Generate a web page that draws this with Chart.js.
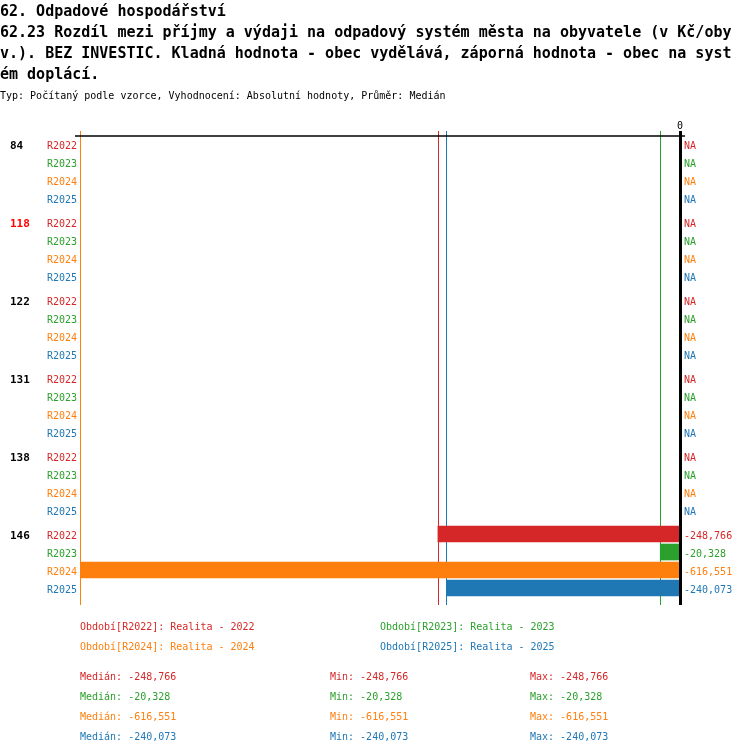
<!DOCTYPE html>
<html>
<head>
<meta charset="utf-8">
<script src="https://cdn.jsdelivr.net/npm/chart.js@4.4.1/dist/chart.umd.min.js"></script>
<style>
  body { margin: 0; background: #fff; }
  #wrap { position: relative; width: 750px; height: 754px; overflow: hidden; }
  #chart { position: absolute; left: 0; top: 0; }
  .txt { position: absolute; font-family: 'DejaVu Sans Mono', monospace; white-space: pre; color: #000; }
  .title { left: 0; font-size: 15px; font-weight: bold; line-height: 21px; }
  #heading2 { width: 735px; white-space: normal; word-break: break-all; }
  .small { font-size: 10px; line-height: 20px; }
</style>
</head>
<body>
<div id="wrap">
  <canvas id="chart" width="750" height="754"></canvas>
  <div class="txt title" style="top:1px">62. Odpadové hospodářství</div>
  <div class="txt title" id="heading2" style="top:22px">62.23 Rozdíl mezi příjmy a výdaji na odpadový systém města na obyvatele (v Kč/obyv.). BEZ INVESTIC. Kladná hodnota - obec vydělává, záporná hodnota - obec na systém doplácí.</div>
  <div class="txt small" style="top:85.5px;left:0">Typ: Počítaný podle vzorce, Vyhodnocení: Absolutní hodnoty, Průměr: Medián</div>
  <div id="notes"></div>
</div>
<script>
// Municipalities (row groups) and periods
const groups = ['84', '118', '122', '131', '138', '146'];
const highlightGroup = '118';
const periods = ['R2022', 'R2023', 'R2024', 'R2025'];
const periodNames = ['Realita - 2022', 'Realita - 2023', 'Realita - 2024', 'Realita - 2025'];
const periodColors = ['#d62728', '#2ca02c', '#ff7f0e', '#1f77b4'];

// Values per period, one entry per group (null = NA)
const r2022 = [null, null, null, null, null, -248766];
const r2023 = [null, null, null, null, null, -20328];
const r2024 = [null, null, null, null, null, -616551];
const r2025 = [null, null, null, null, null, -240073];
const series = [r2022, r2023, r2024, r2025];

const xTicks = [0];

// layout: rows are 18px apart, groups 78px apart
const groupStep = 78 / 18;
const rowPos = (g, p) => g * groupStep + p;
const fmt = v => v.toLocaleString('en-US');

function stats(arr) {
    const v = arr.filter(x => x !== null).sort((a, b) => a - b);
    const m = v.length % 2 ? v[(v.length - 1) / 2] : (v[v.length / 2 - 1] + v[v.length / 2]) / 2;
    return { median: m, min: v[0], max: v[v.length - 1] };
}
const seriesStats = series.map(stats);
const xMin = Math.min(...seriesStats.map(s => s.min));

const datasets = series.map((vals, p) => ({
    label: periods[p],
    data: vals.map((v, g) => ({ x: v, y: rowPos(g, p) })).filter(d => d.x !== null),
    backgroundColor: periodColors[p],
    borderWidth: 0,
    barThickness: 16,
    grouped: false
}));

const FONT = "'DejaVu Sans Mono', monospace";

const medianLines = {
    id: 'medianLines',
    beforeDatasetsDraw(chart) {
        const { ctx, chartArea, scales: { x } } = chart;
        ctx.save();
        ctx.lineWidth = 1;
        seriesStats.forEach((s, p) => {
            const px = Math.round(x.getPixelForValue(s.median)) + 0.5;
            ctx.strokeStyle = periodColors[p];
            ctx.beginPath();
            ctx.moveTo(px, chartArea.top - 4);
            ctx.lineTo(px, chartArea.bottom + 8);
            ctx.stroke();
        });
        // top frame line
        ctx.strokeStyle = '#000';
        ctx.lineWidth = 1.5;
        ctx.beginPath();
        ctx.moveTo(chartArea.left - 5, chartArea.top + 1);
        ctx.lineTo(chartArea.right + 5, chartArea.top + 1);
        ctx.stroke();
        ctx.restore();
    },
    afterDatasetsDraw(chart) {
        const { ctx, chartArea, scales: { x, y } } = chart;
        ctx.save();
        // zero axis
        const zx = x.getPixelForValue(0);
        ctx.fillStyle = '#000';
        ctx.fillRect(zx - 1, chartArea.top - 4, 3, chartArea.bottom - chartArea.top + 12);
        ctx.font = '10px ' + FONT;
        ctx.textAlign = 'center';
        xTicks.forEach(t => ctx.fillText(String(t), x.getPixelForValue(t), chartArea.top - 6));

        groups.forEach((g, gi) => {
            periods.forEach((p, pi) => {
                const cy = y.getPixelForValue(rowPos(gi, pi)) + 4.5;
                ctx.fillStyle = periodColors[pi];
                ctx.font = '10px ' + FONT;
                ctx.textAlign = 'right';
                ctx.fillText(p, chartArea.left - 3, cy);
                ctx.textAlign = 'left';
                const v = series[pi][gi];
                ctx.fillText(v === null ? 'NA' : fmt(v), chartArea.right + 4, cy);
            });
            const gy = y.getPixelForValue(rowPos(gi, 0)) + 4.5;
            ctx.font = 'bold 11px ' + FONT;
            ctx.textAlign = 'left';
            ctx.fillStyle = g === highlightGroup ? '#ff0000' : '#000';
            ctx.fillText(g, 10, gy);
        });
        ctx.restore();
    }
};

new Chart(document.getElementById('chart'), {
    type: 'bar',
    data: { datasets },
    options: {
        indexAxis: 'y',
        responsive: false,
        animation: false,
        layout: { padding: { left: 80, right: 70, top: 135, bottom: 157 } },
        plugins: { legend: { display: false }, tooltip: { enabled: false } },
        scales: {
            x: { type: 'linear', display: false, min: xMin, max: 0 },
            y: { type: 'linear', display: false, offset: false, min: -0.5, max: rowPos(groups.length - 1, 3) + 0.5, reverse: true }
        }
    },
    plugins: [medianLines]
});

// legend + summary stats below the chart
const notes = document.getElementById('notes');
function note(text, left, baseline, color) {
    const d = document.createElement('div');
    d.className = 'txt small';
    d.style.left = left + 'px';
    d.style.top = (baseline - 13.5) + 'px';
    d.style.color = color;
    d.textContent = text;
    notes.appendChild(d);
}
periods.forEach((p, i) => {
    note('Období[' + p + ']: ' + periodNames[i], i % 2 ? 380 : 80, 630 + Math.floor(i / 2) * 20, periodColors[i]);
    const s = seriesStats[i];
    const b = 680 + i * 20;
    note('Medián: ' + fmt(s.median), 80, b, periodColors[i]);
    note('Min: ' + fmt(s.min), 330, b, periodColors[i]);
    note('Max: ' + fmt(s.max), 530, b, periodColors[i]);
});
</script>
</body>
</html>
